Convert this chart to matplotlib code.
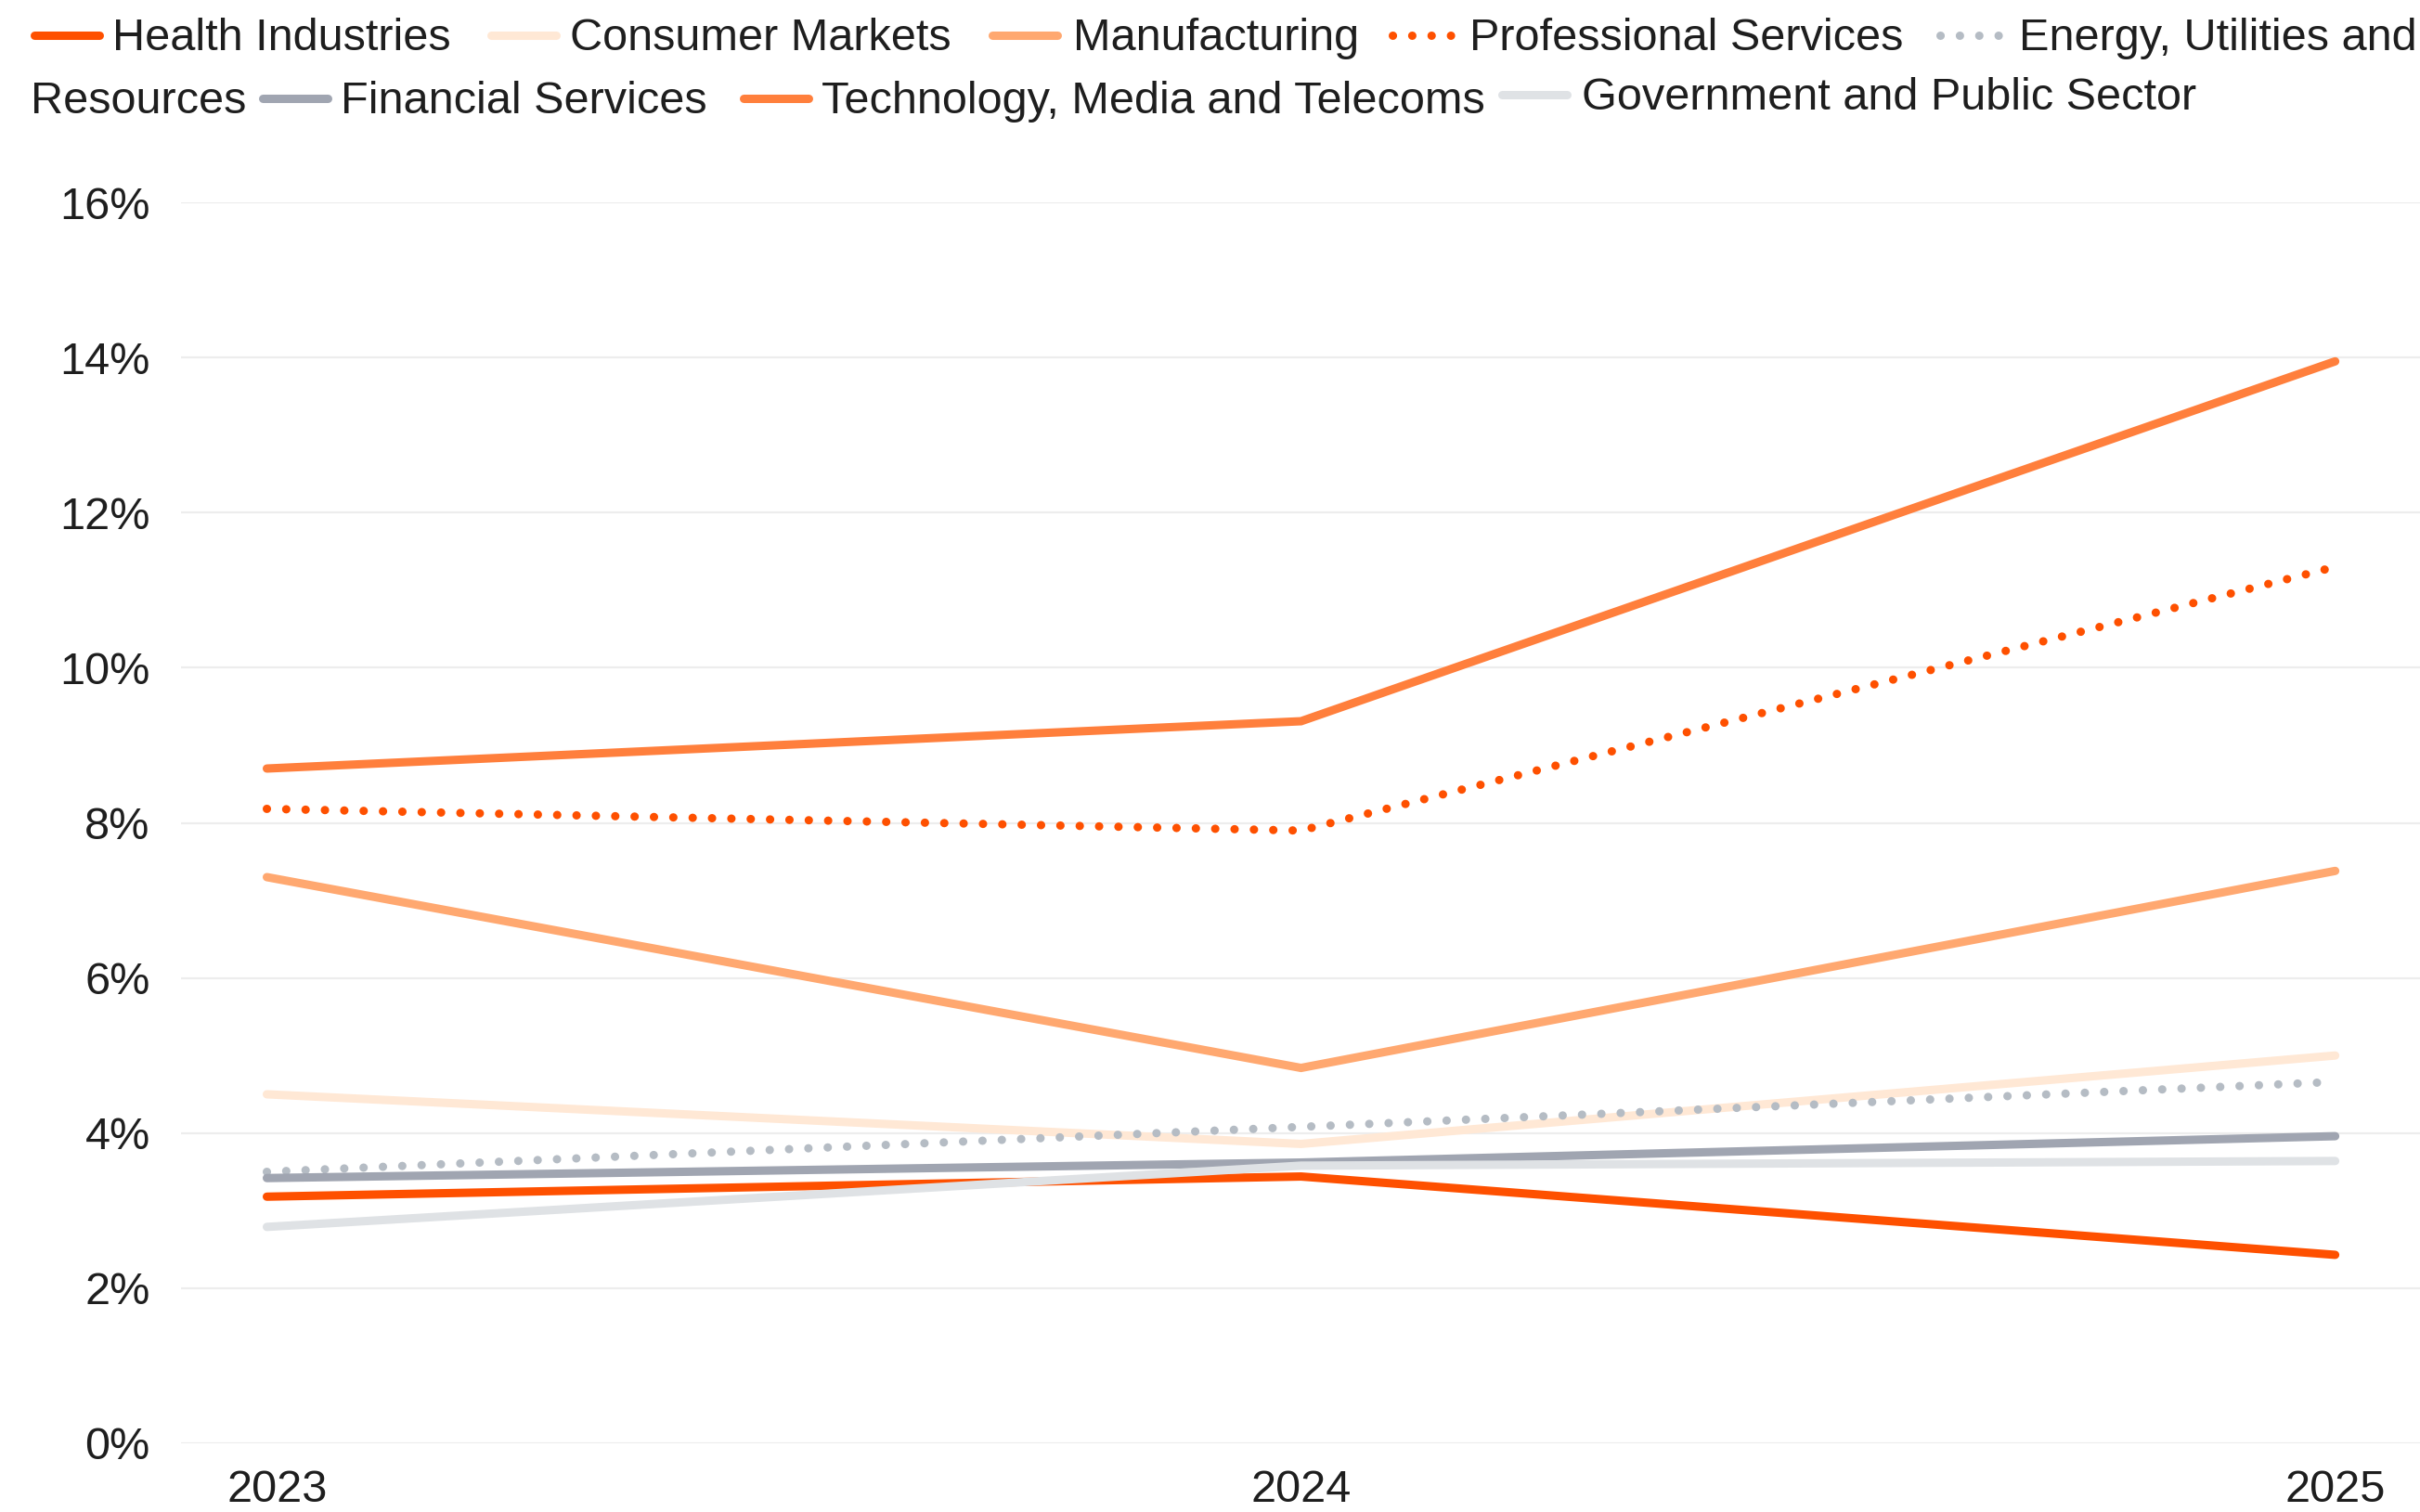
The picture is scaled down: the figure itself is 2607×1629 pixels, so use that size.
import matplotlib
matplotlib.use("Agg")
import matplotlib.pyplot as plt
import matplotlib.transforms as mtransforms
from matplotlib.lines import Line2D
from matplotlib.ticker import FuncFormatter

plt.rcParams['font.family'] = ['Liberation Sans', 'DejaVu Sans']

years = ['2023', '2024', '2025']

health = [3.18, 3.44, 2.43]
consumer = [4.50, 3.86, 5.00]
manufacturing = [7.30, 4.84, 7.38]
professional = [8.18, 7.90, 11.30]
energy = [3.50, 4.08, 4.66]
financial = [3.42, 3.62, 3.96]
tech = [8.70, 9.31, 13.95]
government = [2.79, 3.58, 3.64]

names = ['Health Industries', 'Consumer Markets', 'Manufacturing',
         'Professional Services', 'Energy, Utilities and Resources',
         'Financial Services', 'Technology, Media and Telecoms',
         'Government and Public Sector']
series = [health, consumer, manufacturing, professional, energy,
          financial, tech, government]
colors = ['#FE5000', '#FFE8D5', '#FFA870', '#FE5000', '#B5BCC4',
          '#A0A5B1', '#FF7F3C', '#DFE2E5']
dotted = [False, False, False, True, True, False, False, False]

W, H = 2607, 1629
fig = plt.figure(figsize=(W / 100, H / 100), dpi=100)
ax = fig.add_axes([195 / W, 1 - 1555 / H, 1 - 195 / W, (1555 - 218) / H])

LW = 6.5
DOTS = (0, (0.01, 2.3))
x = range(len(years))
for vals, c, d in zip(series, colors, dotted):
    if d:
        ax.plot(x, vals, color=c, lw=LW, linestyle=DOTS,
                dash_capstyle='round', clip_on=False)
    else:
        ax.plot(x, vals, color=c, lw=LW, solid_capstyle='round',
                solid_joinstyle='miter', clip_on=False)

ax.set_ylim(0, 16)
ax.set_yticks(range(0, 17, 2))
ax.yaxis.set_major_formatter(FuncFormatter(lambda v, p: f'{v:.0f}%'))
ax.set_xlim(-0.083, 2.082)
ax.set_xticks(list(x))
ax.set_xticklabels(years)
ax.grid(axis='y', color='#EDEDED', lw=1.6)
ax.set_axisbelow(True)
for s in ax.spines.values():
    s.set_visible(False)
ax.tick_params(length=0, labelsize=35, colors='#1E1E1E')
ax.tick_params(axis='y', pad=24)
ax.tick_params(axis='x', pad=20)
# first year label sits a little right of its point
first = ax.get_xticklabels()[0]
first.set_transform(first.get_transform() +
                    mtransforms.ScaledTranslation(0.11, 0, fig.dpi_scale_trans))

# legend laid out in two wrapped rows across the top
FS = 35
TXT = '#1E1E1E'
row1, row2 = 42, 110
entries = [
    (0, 37, 121, row1, names[0]),
    (1, 529, 614, row1, names[1]),
    (2, 1069, 1156, row1, names[2]),
    (3, 1500, 1583, row1, names[3]),
    (4, 2090, 2175, row1, 'Energy, Utilities and'),
    (5, 283, 367, row2, names[5]),
    (6, 801, 885, row2, names[6]),
    (7, 1618, 1704, row2 - 4, names[7]),
]
for i, lx, tx, ty, label in entries:
    yf = 1 - (ty - 4) / H
    if dotted[i]:
        ln = Line2D([lx / W, (lx + 70) / W], [yf, yf], transform=fig.transFigure,
                    color=colors[i], lw=LW, linestyle=DOTS, dash_capstyle='round')
    else:
        ln = Line2D([lx / W, (lx + 70) / W], [yf, yf], transform=fig.transFigure,
                    color=colors[i], lw=LW, solid_capstyle='round')
    fig.add_artist(ln)
    fig.text(tx / W, 1 - ty / H, label, fontsize=FS, color=TXT,
             va='center', ha='left')
fig.text(33 / W, 1 - row2 / H, 'Resources', fontsize=FS, color=TXT,
         va='center', ha='left')

fig.savefig('out.png', dpi=100, facecolor='white')
